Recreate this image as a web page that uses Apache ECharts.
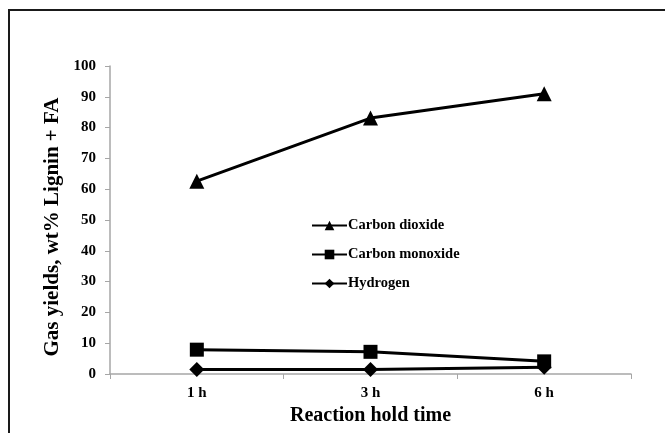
<!DOCTYPE html>
<html><head><meta charset="utf-8">
<script src="https://cdn.jsdelivr.net/npm/echarts@6/dist/echarts.min.js"></script>
<style>html,body{margin:0;padding:0;background:#fff}#c{width:665px;height:433px}</style>
</head><body><div id="c"></div>
<script>
const categories = ['1 h', '3 h', '6 h'];
const carbonDioxide = [62.6, 83.1, 91.0];
const carbonMonoxide = [7.9, 7.2, 4.1];
const hydrogen = [1.5, 1.5, 2.2];
const seriesNames = ['Carbon dioxide', 'Carbon monoxide', 'Hydrogen'];

const font = '"Liberation Serif", "Times New Roman", serif';
const chart = echarts.init(document.getElementById('c'), null, {renderer: 'canvas'});
function mk(name, data, symbol, size) {
  return {
    name, type: 'line', data, symbol, symbolSize: size,
    lineStyle: {color: '#000', width: 3},
    itemStyle: {color: '#000'},
    animation: false
  };
}
chart.setOption({
  backgroundColor: '#fff',
  animation: false,
  graphic: [{
    type: 'rect', shape: {x: 9, y: 10, width: 700, height: 500},
    style: {fill: 'none', stroke: '#1a1a1a', lineWidth: 2}, z: 100
  }],
  grid: {left: 110, top: 66, right: 34, bottom: 59, containLabel: false, outerBoundsMode: 'none'},
  legend: {
    orient: 'vertical', left: 306, top: 213, itemWidth: 35, itemHeight: 12, itemGap: 14,
    data: seriesNames,
    textStyle: {fontFamily: font, fontWeight: 'bold', fontSize: 14.5, color: '#000', padding: [0, 0, 0, -4]}
  },
  xAxis: {
    type: 'category', data: categories, boundaryGap: true,
    name: 'Reaction hold time', nameLocation: 'middle', nameGap: 30,
    nameTextStyle: {fontFamily: font, fontWeight: 'bold', fontSize: 20, color: '#000'},
    axisLine: {lineStyle: {color: '#a6a6a6', width: 1.5}},
    axisTick: {show: true, length: 5, lineStyle: {color: '#a6a6a6'}},
    axisLabel: {fontFamily: font, fontWeight: 'bold', fontSize: 15, color: '#000', margin: 12},
    splitLine: {show: false}
  },
  yAxis: {
    type: 'value', min: 0, max: 100, interval: 10,
    name: 'Gas yields, wt% Lignin + FA', nameLocation: 'middle', nameGap: 41,
    nameTextStyle: {fontFamily: font, fontWeight: 'bold', fontSize: 21, color: '#000', padding: [0, 14, 0, 0]},
    axisLine: {show: true, lineStyle: {color: '#a6a6a6', width: 1.5}},
    axisTick: {show: true, length: 5, lineStyle: {color: '#a6a6a6'}},
    axisLabel: {fontFamily: font, fontWeight: 'bold', fontSize: 15, color: '#000', margin: 14},
    splitLine: {show: false}
  },
  series: [
    mk(seriesNames[0], carbonDioxide, 'triangle', 15),
    mk(seriesNames[1], carbonMonoxide, 'rect', 14),
    mk(seriesNames[2], hydrogen, 'diamond', 15)
  ]
});
</script></body></html>
